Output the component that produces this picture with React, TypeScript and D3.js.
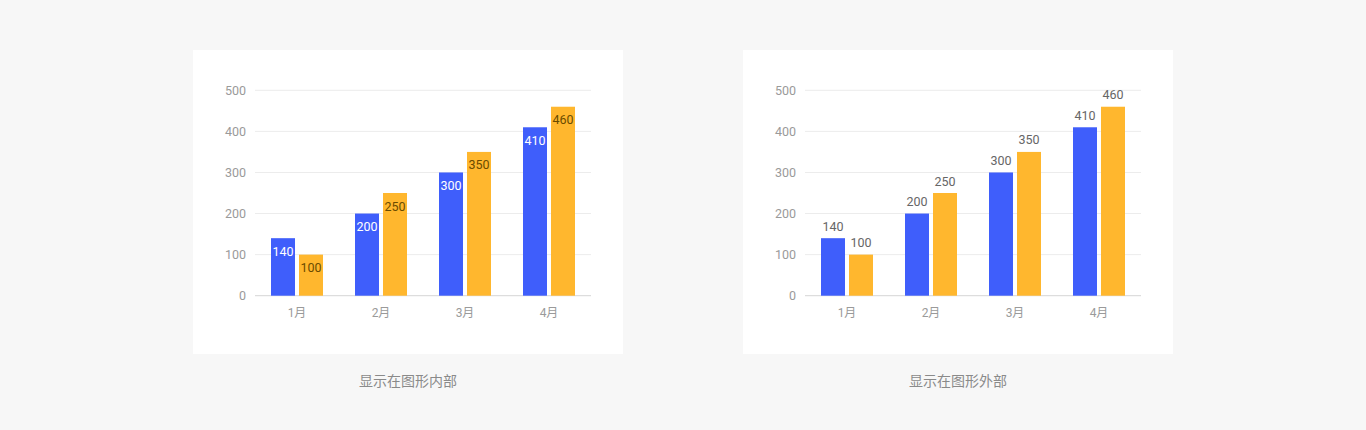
import * as d3 from "d3";

const MONTHS = ["1月", "2月", "3月", "4月"];
const SERIES = ["a", "b"];
const VALUES_A = [140, 200, 300, 410];
const VALUES_B = [100, 250, 350, 460];
const Y_TICKS = [0, 100, 200, 300, 400, 500];
const CAPTIONS = ["显示在图形内部", "显示在图形外部"];

const W = 1366;
const H = 430;
const CARD = { w: 430, h: 304, top: 50 };
const CARD_LEFT = [193, 743];
const PLOT = { left: 62, right: 398, top: 90.3, bottom: 295.7 };
const COLORS = ["#3F5EFB", "#FFB72E"];
const FONT = "Roboto, 'Noto Sans CJK SC', sans-serif";

const rows = MONTHS.map((m, i) => ({ month: m, a: VALUES_A[i], b: VALUES_B[i] }));

const y = d3.scaleLinear().domain([0, 500]).range([PLOT.bottom, PLOT.top]);
const x0 = d3.scaleBand<string>().domain(MONTHS).range([PLOT.left, PLOT.right]);
// two bars of 24px with a 4px gap, centred in each month
const x1 = d3.scaleBand<string>().domain(SERIES).range([0, 52]).paddingInner(4 / 28);

type PanelProps = { left: number; inside: boolean; caption: string };

const Panel = ({ left, inside, caption }: PanelProps) => {
  const groupOffset = (x0.bandwidth() - 52) / 2;
  return (
    <g transform={`translate(${left},0)`}>
      <rect x={0} y={CARD.top} width={CARD.w} height={CARD.h} fill="#ffffff" />
      {Y_TICKS.map((t) => (
        <g key={t}>
          <line
            x1={PLOT.left}
            x2={PLOT.right}
            y1={y(t)}
            y2={y(t)}
            stroke={t === 0 ? "#d6d6d6" : "#ececec"}
            strokeWidth={1}
          />
          <text
            x={PLOT.left - 9}
            y={y(t)}
            textAnchor="end"
            dominantBaseline="central"
            fontSize={12.5}
            fill="#9a9a9a"
          >
            {t}
          </text>
        </g>
      ))}
      {rows.map((r) => (
        <g key={r.month} transform={`translate(${(x0(r.month) as number) + groupOffset},0)`}>
          {SERIES.map((s, si) => {
            const v = (r as any)[s] as number;
            const bx = x1(s) as number;
            const bw = x1.bandwidth();
            return (
              <g key={s}>
                <rect x={bx} y={y(v)} width={bw} height={y(0) - y(v)} fill={COLORS[si]} />
                <text
                  x={bx + bw / 2}
                  y={inside ? y(v) + 13 : y(v) - 12}
                  textAnchor="middle"
                  dominantBaseline="central"
                  fontSize={12.5}
                  fill={inside ? (si === 0 ? "#ffffff" : "#6a4b00") : "#666666"}
                >
                  {v}
                </text>
              </g>
            );
          })}
          <text
            x={x0.bandwidth() / 2 - groupOffset}
            y={313}
            textAnchor="middle"
            dominantBaseline="central"
            fontSize={12}
            fill="#9a9a9a"
          >
            {r.month}
          </text>
        </g>
      ))}
      <text
        x={CARD.w / 2}
        y={380.5}
        textAnchor="middle"
        dominantBaseline="central"
        fontSize={14}
        fill="#8a8a8a"
      >
        {caption}
      </text>
    </g>
  );
};

export default function App() {
  return (
    <svg
      width={W}
      height={H}
      style={{ position: "absolute", left: 0, top: 0, fontFamily: FONT }}
    >
      <rect width={W} height={H} fill="#f7f7f7" />
      <Panel left={CARD_LEFT[0]} inside={true} caption={CAPTIONS[0]} />
      <Panel left={CARD_LEFT[1]} inside={false} caption={CAPTIONS[1]} />
    </svg>
  );
}
